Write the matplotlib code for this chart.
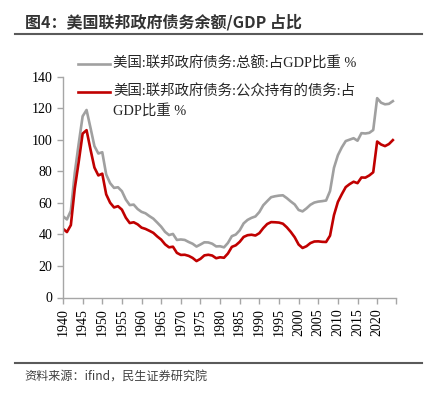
import matplotlib.pyplot as plt
from matplotlib.lines import Line2D

years = list(range(1940, 2025))

# 美国:联邦政府债务:总额:占GDP比重 %
total_debt = [
    51.5, 49.5, 55.0, 79.1, 97.6, 114.9, 118.9, 107.6, 96.0, 91.3,
    92.1, 78.0, 72.5, 69.5, 69.9, 67.4, 62.1, 58.6, 58.9, 56.1,
    54.3, 53.4, 51.6, 50.0, 47.5, 44.9, 41.6, 39.6, 40.3, 36.5,
    36.8, 36.5, 35.2, 34.1, 32.3, 33.6, 35.0, 34.9, 34.1, 32.4,
    32.5, 31.8, 34.6, 38.9, 39.9, 42.6, 47.0, 49.2, 50.5, 51.4,
    54.2, 58.5, 61.1, 63.6, 64.2, 64.6, 64.8, 63.0, 60.9, 59.0,
    55.5, 54.6, 56.5, 58.8, 60.2, 60.8, 61.1, 61.5, 67.5, 82.2,
    90.2, 95.2, 99.2, 100.1, 101.0, 99.4, 104.2, 104.0, 104.4, 106.2,
    126.4, 123.5, 122.5, 122.8, 124.5,
]

# 美国:联邦政府债务:公众持有的债务:占GDP比重 %
public_debt = [
    43.6, 41.5, 45.9, 69.2, 86.0, 103.9, 106.1, 93.9, 82.4, 77.4,
    78.5, 65.4, 60.1, 57.1, 57.9, 55.7, 50.6, 47.2, 47.7, 46.4,
    44.3, 43.5, 42.3, 41.0, 38.7, 36.7, 33.7, 31.8, 32.2, 28.3,
    27.0, 27.1, 26.4, 25.1, 23.1, 24.5, 26.7, 27.1, 26.6, 24.9,
    25.5, 25.2, 27.9, 32.1, 33.1, 35.3, 38.4, 39.5, 39.8, 39.3,
    40.8, 44.0, 46.6, 47.8, 47.7, 47.5, 46.8, 44.5, 41.6, 38.2,
    33.6, 31.4, 32.5, 34.5, 35.5, 35.6, 35.3, 35.2, 39.2, 52.2,
    60.6, 65.5, 70.0, 71.9, 73.4, 72.5, 76.1, 76.0, 77.4, 79.4,
    98.9, 97.0, 96.0, 97.3, 99.8,
]

colors = ["#a0a0a0", "#c00000"]
# legend text, second label wraps onto two lines like the original
labels = [["美国:联邦政府债务:总额:占GDP比重 %"],
          ["美国:联邦政府债务:公众持有的债务:占", "GDP比重 %"]]

serif = ["Liberation Serif", "Noto Sans CJK SC"]
axis_grey = "#a6a6a6"
W, H = 433, 394

fig = plt.figure(figsize=(4.33, 3.94), dpi=100)
ax = fig.add_axes([63 / W, 1 - 297.5 / H, (396 - 63) / W, (297.5 - 76.7) / H])

ax.plot(years, total_debt, color=colors[0], lw=1.9)
ax.plot(years, public_debt, color=colors[1], lw=1.9)

ax.set_xlim(1940, 2024.8)
ax.set_ylim(0, 140)
ax.set_yticks(range(0, 141, 20))
ax.set_xticks(list(range(1940, 2021, 5)) + [2024.8])
ax.set_xticklabels([str(y) for y in range(1940, 2021, 5)] + [""], rotation=90)

for s in ["top", "right"]:
    ax.spines[s].set_visible(False)
for s in ["left", "bottom"]:
    ax.spines[s].set_color(axis_grey)
    ax.spines[s].set_linewidth(1.0)
ax.tick_params(colors=axis_grey, length=4, width=1.0, labelcolor="black")
for t in ax.get_xticklabels() + ax.get_yticklabels():
    t.set_family(serif)
    t.set_fontsize(10)

# legend by hand (pixel rows from the original)
rows = [64, 92]
for i in range(2):
    y = 1 - rows[i] / H
    fig.add_artist(Line2D([78 / W, 110 / W], [y, y], color=colors[i], lw=1.9))
    for j, line in enumerate(labels[i]):
        fig.text(113 / W, 1 - (rows[i] + 19 * j) / H, line, family=serif, fontsize=10.4,
                 color="#262626", va="center", ha="left")

# title + rules
fig.text(25 / W, 1 - 22 / H, "图4：美国联邦政府债务余额/GDP 占比", family=["Noto Sans CJK SC"],
         fontsize=11.5, fontweight="bold", color="#333333", va="center", ha="left")
fig.add_artist(Line2D([15 / W, 422 / W], [1 - 34 / H] * 2, color="#5a5a5a", lw=1.5))
fig.add_artist(Line2D([15 / W, 422 / W], [1 - 363 / H] * 2, color="#5a5a5a", lw=1.5))
fig.text(24 / W, 1 - 377 / H, "资料来源：ifind，民生证券研究院", family=["Noto Sans CJK SC"],
         fontsize=8.7, color="#404040", va="center", ha="left")

fig.savefig("out.png", dpi=100)
